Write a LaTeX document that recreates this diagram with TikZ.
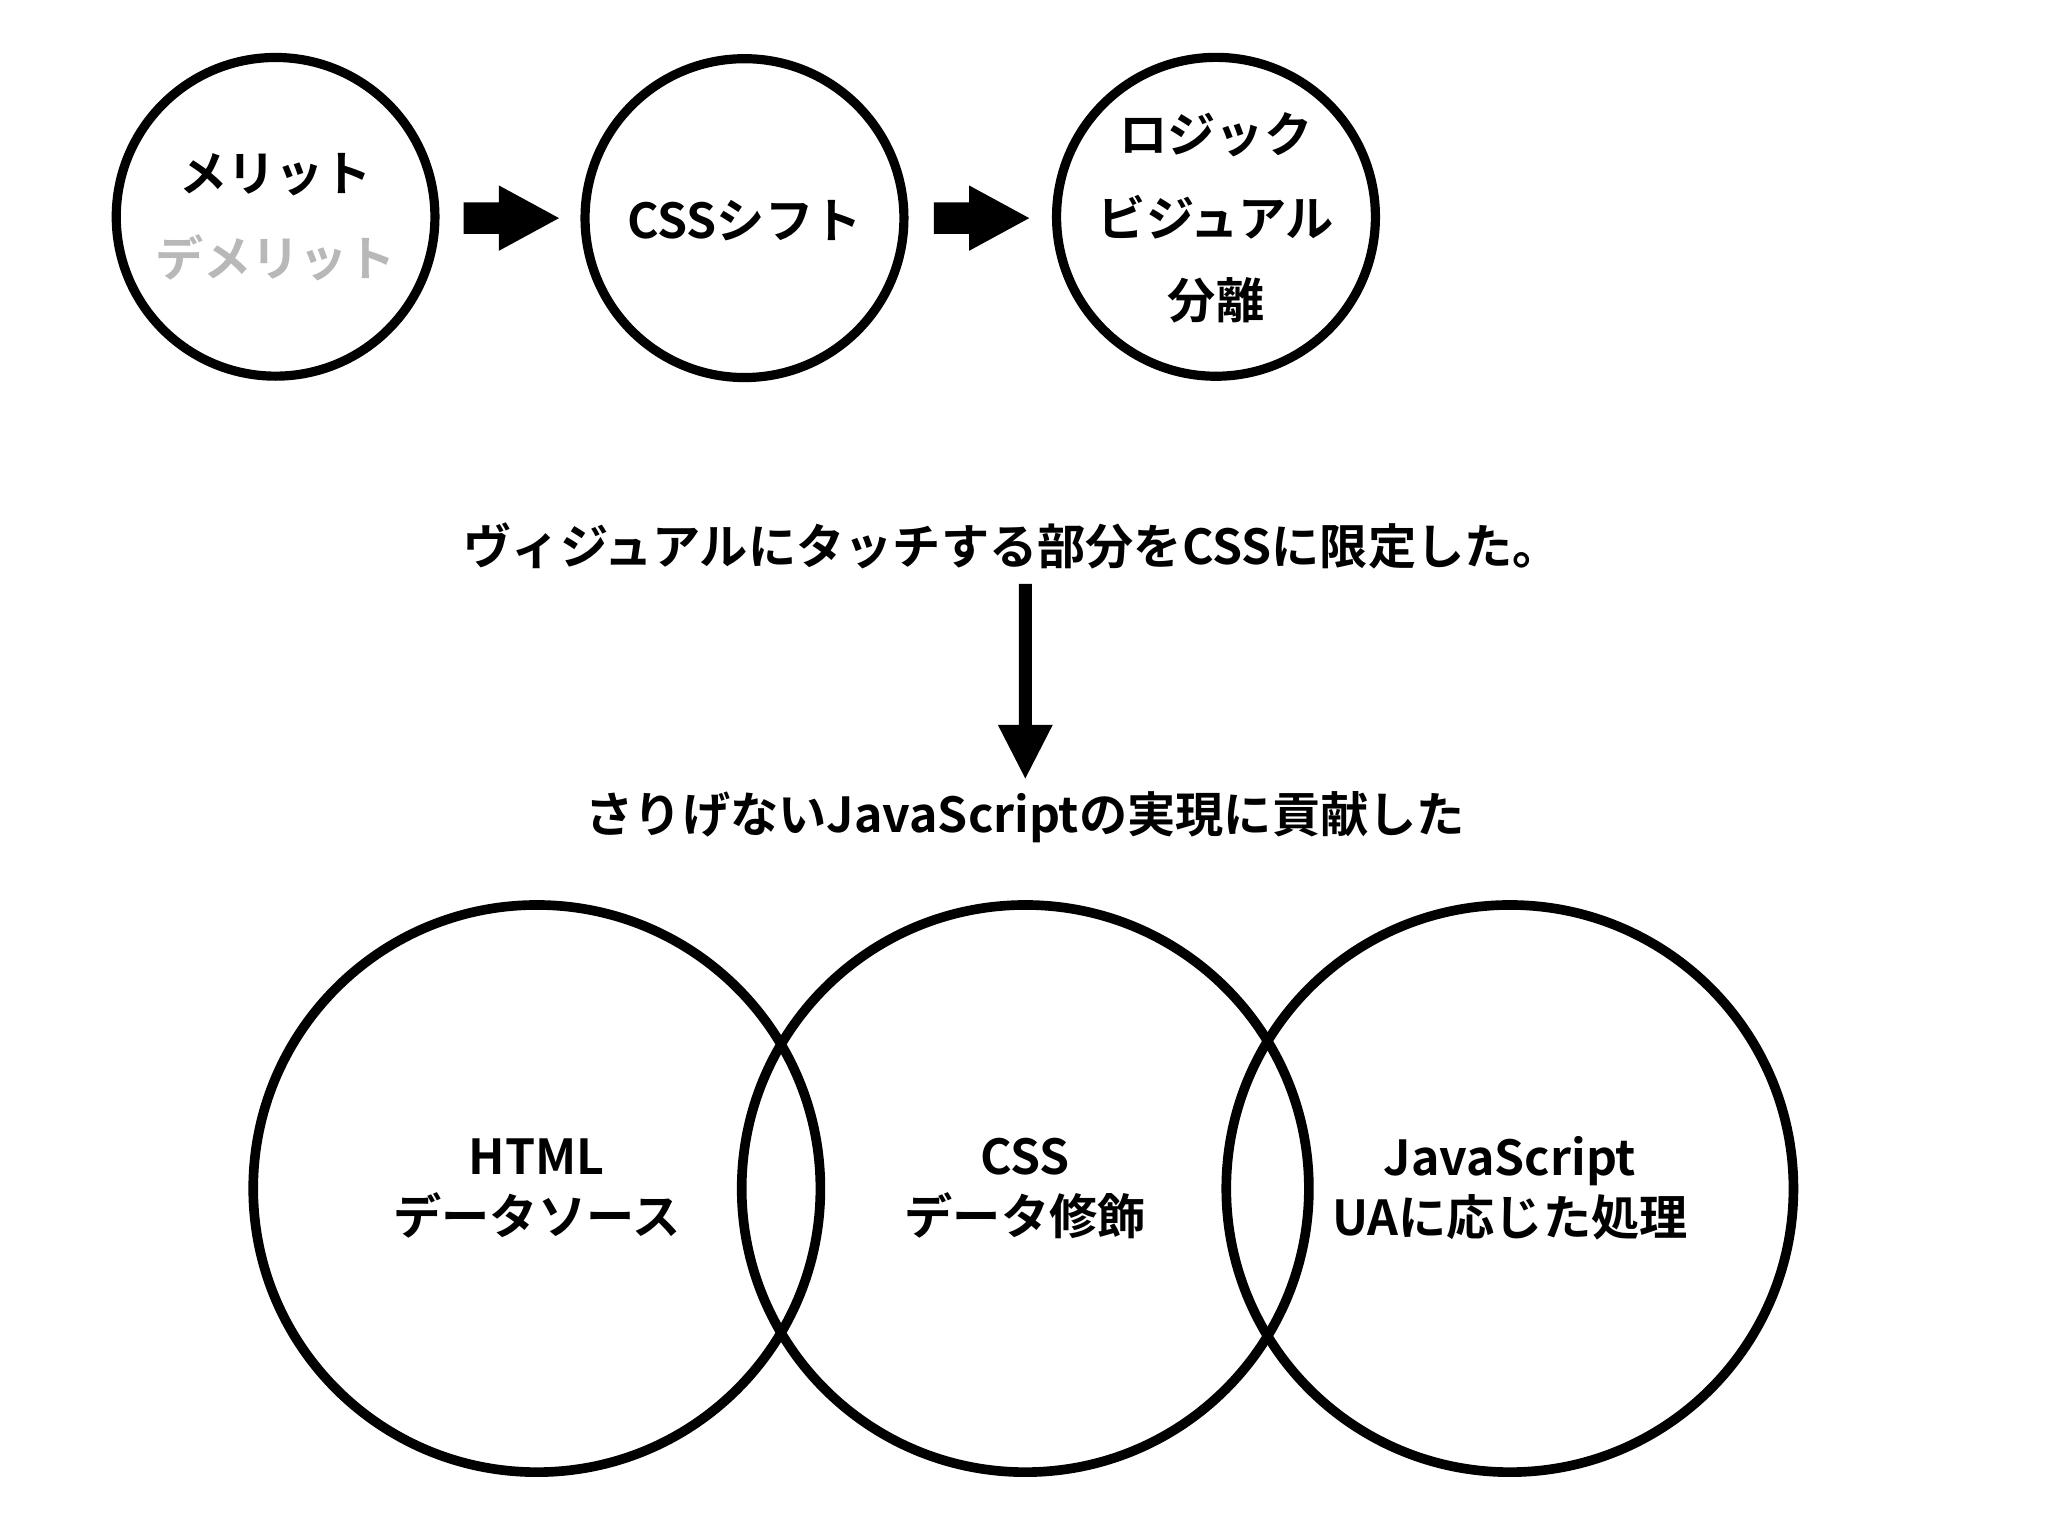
\documentclass[tikz,border=0pt]{standalone}
\usepackage{fontspec}
\setmainfont{Noto Sans CJK JP Bold}
\begin{document}
\begin{tikzpicture}[x=0.01cm,y=-0.01cm,
  circ/.style={draw=black,line width=2pt,circle,inner sep=0pt},
  lbl/.style={font=\fontsize{10.5}{13}\selectfont,align=center,text=black},
  blk/.style={fill=black,draw=none}]
\useasboundingbox (0,0) rectangle (1568,1176);
% top circles
\node[circ,minimum size=244\pgflinewidth/\pgflinewidth*0.01cm] (c1) at (211,166) {};
\node[circ,minimum size=2.44cm] (c2) at (570,167) {};
\node[circ,minimum size=2.44cm] (c3) at (931,166) {};
\node[lbl] (t1a) at (211,134) {メリット};
\node[lbl,text=black!28] (t1b) at (211,197) {デメリット};
\node[lbl] (t2) at (570,169) {CSSシフト};
\node[lbl] (t3a) at (931,103) {ロジック};
\node[lbl] (t3b) at (931,166) {ビジュアル};
\node[lbl] (t3c) at (931,230) {分離};
% block arrows
\coordinate (a1s) at (355,167);
\fill[blk] (355,155) -- (382,155) -- (382,142) -- (428,167) -- (382,192) -- (382,179) -- (355,179) -- cycle;
\fill[blk] (715,155) -- (742,155) -- (742,142) -- (788,167) -- (742,192) -- (742,179) -- (715,179) -- cycle;
% middle
\node[lbl] (m1) at (775,418) {ヴィジュアルにタッチする部分をCSSに限定した。};
\node[lbl] (m2) at (785,626) {さりげないJavaScriptの実現に貢献した};
\fill[blk] (780,447) -- (790,447) -- (790,555) -- (806,555) -- (785,596) -- (764,555) -- (780,555) -- cycle;
% bottom circles
\node[circ,line width=2.1pt,minimum size=4.34cm] (b1) at (411,910) {};
\node[circ,line width=2.1pt,minimum size=4.34cm] (b2) at (785,910) {};
\node[circ,line width=2.1pt,minimum size=4.34cm] (b3) at (1156,910) {};
\node[lbl] (l1) at (411,910) {HTML\\データソース};
\node[lbl] (l2) at (785,910) {CSS\\データ修飾};
\node[lbl] (l3) at (1156,910) {JavaScript\\UAに応じた処理};
\end{tikzpicture}
\end{document}
